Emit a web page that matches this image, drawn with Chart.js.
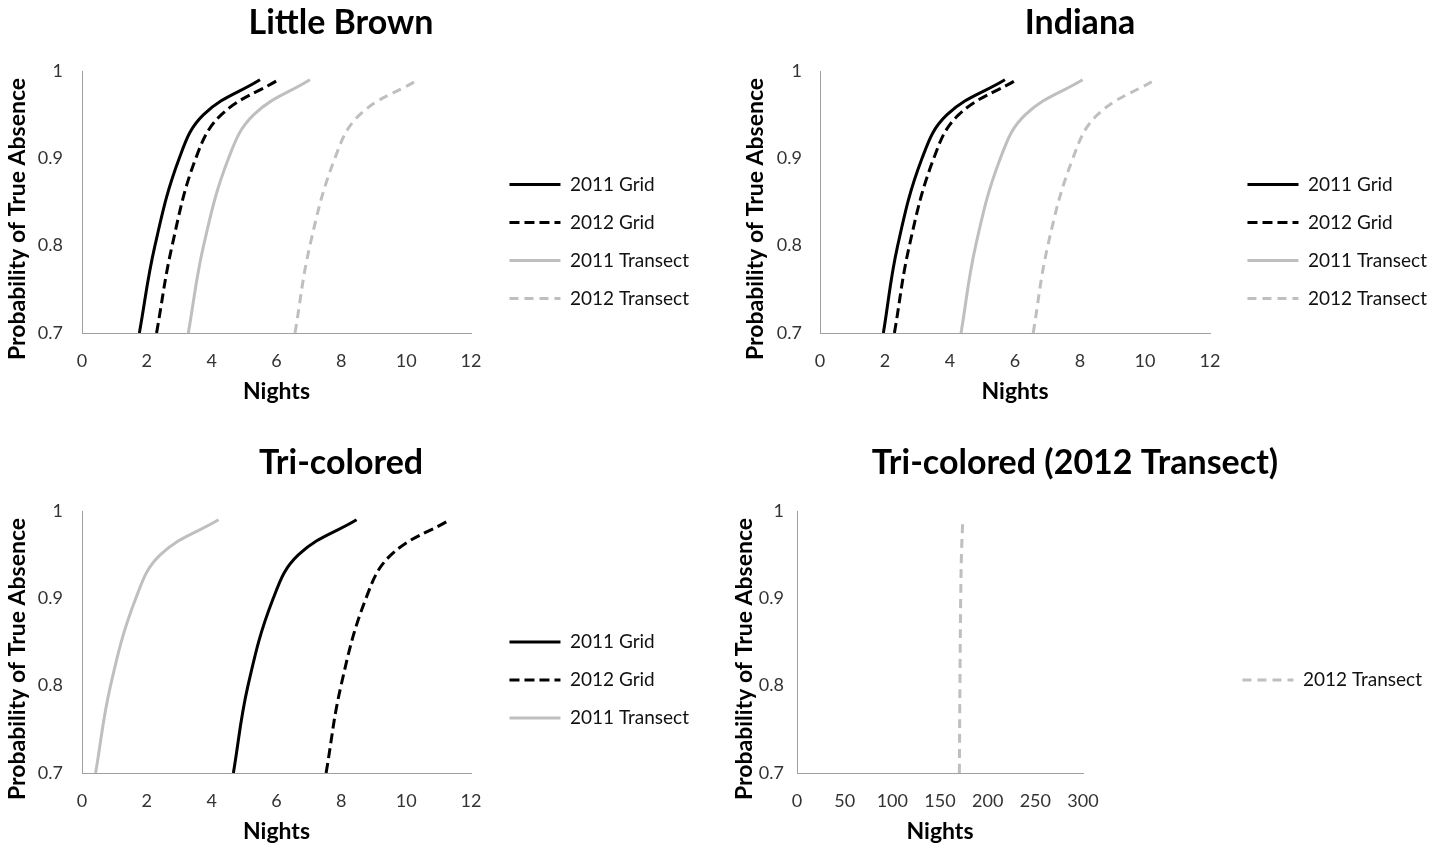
<!DOCTYPE html>
<html>
<head>
<meta charset="utf-8">
<script src="https://cdn.jsdelivr.net/npm/chart.js@4.4.1/dist/chart.umd.min.js"></script>
<style>
html,body{margin:0;padding:0;background:#fff;overflow:hidden;width:1442px;height:847px;position:relative}
canvas{position:absolute}
</style>
</head>
<body>
<canvas id="c1"></canvas>
<canvas id="c2"></canvas>
<canvas id="c3"></canvas>
<canvas id="c4"></canvas>
<script>
// ---- data ----
const probLevels = [0.7, 0.8, 0.9, 0.95, 0.99];

const seriesNames = ['2011 Grid', '2012 Grid', '2011 Transect', '2012 Transect'];

// Little Brown (nights needed for each probability level)
const lbGrid2011 = [1.77, 2.25, 3.00, 3.75, 5.49];
const lbGrid2012 = [2.30, 2.78, 3.51, 4.30, 6.06];
const lbTran2011 = [3.28, 3.75, 4.52, 5.30, 7.03];
const lbTran2012 = [6.57, 7.03, 7.80, 8.57, 10.37];

// Indiana
const inGrid2011 = [1.95, 2.39, 3.14, 3.91, 5.69];
const inGrid2012 = [2.29, 2.75, 3.50, 4.27, 6.05];
const inTran2011 = [4.34, 4.79, 5.55, 6.32, 8.08];
const inTran2012 = [6.56, 7.01, 7.78, 8.54, 10.31];

// Tri-colored
const tcGrid2011 = [4.67, 5.12, 5.90, 6.68, 8.47];
const tcGrid2012 = [7.53, 7.99, 8.76, 9.54, 11.35];
const tcTran2011 = [0.42, 0.88, 1.66, 2.42, 4.21];
const tcTran2012 = [170.3, 170.9, 171.7, 172.5, 173.9];

// tick labels
const xTicksNarrow = [0, 2, 4, 6, 8, 10, 12];
const xTicksWide = [0, 50, 100, 150, 200, 250, 300];
const yTicks = [0.7, 0.8, 0.9, 1];
const yTickLabels = ['0.7', '0.8', '0.9', '1'];

const panelTitles = ['Little Brown', 'Indiana', 'Tri-colored', 'Tri-colored (2012 Transect)'];
const yAxisTitle = 'Probability of True Absence';
const xAxisTitle = 'Nights';

// ---- styles ----
const FONT = "Lato, 'Open Sans', sans-serif";
const styles = {
  '2011 Grid': {color: '#000000', dash: []},
  '2012 Grid': {color: '#000000', dash: [10, 5]},
  '2011 Transect': {color: '#bfbfbf', dash: []},
  '2012 Transect': {color: '#bfbfbf', dash: [9, 6]}
};

const panels = [
  {id: 'c1', left: -17, top: 0, width: 716, title: panelTitles[0], plotL: 99, plotR: 488, yTitleC: 35, yPad: 19, legTitleH: 75,
   xTicks: xTicksNarrow, series: [[seriesNames[0], lbGrid2011], [seriesNames[1], lbGrid2012], [seriesNames[2], lbTran2011], [seriesNames[3], lbTran2012]]},
  {id: 'c2', left: 723, top: 0, width: 714, title: panelTitles[1], plotL: 97, plotR: 487, yTitleC: 33, yPad: 18, legTitleH: 75,
   xTicks: xTicksNarrow, series: [[seriesNames[0], inGrid2011], [seriesNames[1], inGrid2012], [seriesNames[2], inTran2011], [seriesNames[3], inTran2012]]},
  {id: 'c3', left: -17, top: 440, width: 716, title: panelTitles[2], plotL: 99, plotR: 488, yTitleC: 35, yPad: 19, legTitleH: 72,
   xTicks: xTicksNarrow, series: [[seriesNames[0], tcGrid2011], [seriesNames[1], tcGrid2012], [seriesNames[2], tcTran2011]]},
  {id: 'c4', left: 718, top: 440, width: 714, title: panelTitles[3], plotL: 79, plotR: 365, yTitleC: 27, yPad: 13, legTitleH: 72,
   xTicks: xTicksWide, series: [[seriesNames[3], tcTran2012]]}
];

const H = 408;
const LEG_FS = 19, LEG_PAD = 19, LEG_LINE = 51;
const TICK_FS = 18, AXT_FS = 23, TITLE_FS = 34;
const Y_TITLE_SHIFT = 17;
const measureCtx = document.createElement('canvas').getContext('2d');
measureCtx.font = LEG_FS + 'px ' + FONT;

panels.forEach(p => {
  const cv = document.getElementById(p.id);
  cv.width = p.width; cv.height = H;
  cv.style.left = p.left + 'px'; cv.style.top = p.top + 'px';

  const maxTW = Math.max(...p.series.map(s => measureCtx.measureText(s[0]).width));
  const legendW = LEG_PAD + LEG_LINE + LEG_FS / 2 + maxTW + 10;
  const gapPx = Math.max(0, p.width - legendW - p.plotR);

  const datasets = p.series.map(([name, xs]) => ({
    label: name,
    data: xs.map((x, i) => ({x: x, y: probLevels[i]})),
    borderColor: styles[name].color,
    backgroundColor: styles[name].color,
    borderDash: styles[name].dash,
    borderWidth: 3,
    pointRadius: 0,
    pointHoverRadius: 0,
    showLine: true,
    fill: false,
    tension: 0.4
  }));

  const titleLH = TITLE_FS * 1.2;
  const axLH = AXT_FS * 1.2;
  const titlePadTop = 23.5 - titleLH / 2;

  new Chart(cv, {
    type: 'scatter',
    data: {datasets},
    options: {
      responsive: false,
      animation: false,
      devicePixelRatio: 1,
      layout: {padding: 0},
      font: {family: FONT},
      plugins: {
        tooltip: {enabled: false},
        title: {
          display: true, text: p.title, color: '#000',
          font: {family: FONT, size: TITLE_FS, weight: 'bold', lineHeight: 1.2},
          padding: {top: titlePadTop, bottom: 71 - titleLH - titlePadTop}
        },
        legend: {
          display: true, position: 'right', maxWidth: 2000,
          title: {display: true, text: '', font: {size: 10, lineHeight: 1.2}, padding: {top: p.legTitleH - 12, bottom: 0}},
          labels: {
            usePointStyle: true, pointStyleWidth: LEG_LINE, padding: LEG_PAD, color: '#000',
            font: {family: FONT, size: LEG_FS},
            generateLabels: chart => chart.data.datasets.map((ds, i) => ({
              text: ds.label, fillStyle: ds.borderColor, strokeStyle: ds.borderColor,
              lineWidth: ds.borderWidth, lineDash: ds.borderDash || [], lineCap: 'butt',
              pointStyle: 'line', hidden: false, datasetIndex: i, fontColor: '#111'
            }))
          }
        }
      },
      scales: {
        x: {
          type: 'linear', position: 'bottom',
          min: p.xTicks[0], max: p.xTicks[p.xTicks.length - 1],
          afterBuildTicks: s => { s.ticks = p.xTicks.map(v => ({value: v})); },
          afterFit: s => { s.height = H - 333; },
          grid: {display: false, drawTicks: false},
          border: {display: true, color: '#a0a0a0', width: 1},
          ticks: {color: '#333', padding: 361 - 333 - TICK_FS * 0.6, font: {family: FONT, size: TICK_FS}, maxRotation: 0,
                  callback: v => String(v)},
          title: {display: true, text: xAxisTitle, color: '#000', font: {family: FONT, size: AXT_FS, weight: 'bold', lineHeight: 1.2},
                  padding: {top: 0, bottom: H - 392 - axLH / 2}}
        },
        y: {
          type: 'linear', position: 'left',
          min: yTicks[0], max: yTicks[yTicks.length - 1],
          afterBuildTicks: s => { s.ticks = yTicks.map(v => ({value: v})); },
          afterFit: s => { s.width = p.plotL; },
          afterUpdate: s => {
            if (!s._titleShifted) {
              const orig = s.drawTitle.bind(s);
              s.drawTitle = function () { s.ctx.save(); s.ctx.translate(0, Y_TITLE_SHIFT); orig(); s.ctx.restore(); };
              s._titleShifted = true;
            }
          },
          grid: {display: false, drawTicks: false},
          border: {display: true, color: '#a0a0a0', width: 1},
          ticks: {color: '#333', padding: p.yPad, font: {family: FONT, size: TICK_FS},
                  callback: (v, i) => yTickLabels[i]},
          title: {display: true, text: yAxisTitle, color: '#000', font: {family: FONT, size: AXT_FS, weight: 'bold', lineHeight: 1.2},
                  padding: {top: p.yTitleC - axLH / 2, bottom: 0}}
        },
        gap: {
          type: 'linear', position: 'right', display: true,
          grid: {display: false, drawTicks: false}, border: {display: false},
          ticks: {display: false}, title: {display: false},
          afterFit: s => { s.width = gapPx; }
        }
      }
    }
  });
});
</script>
</body>
</html>
